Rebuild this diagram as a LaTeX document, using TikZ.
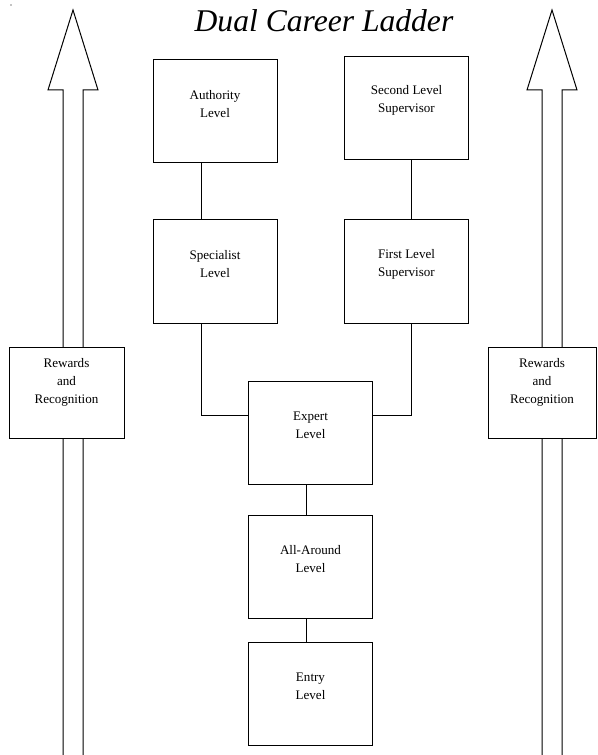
\documentclass[tikz,border=0pt]{standalone}
\usepackage{fontspec}
\setmainfont{Liberation Serif}
\usetikzlibrary{calc}

\tikzset{every picture/.style={line width=0.75pt}}
\tikzset{
  ladderbox/.style={draw, fill=white, minimum width=93pt, minimum height=77.25pt, inner sep=0pt},
  rewardbox/.style={draw, fill=white, minimum height=68.25pt, inner sep=0pt},
  boxtext/.style={align=center, font=\fontsize{9.8}{13.5}\selectfont, inner sep=0.75pt},
}

\begin{document}
\begin{tikzpicture}[x=0.75pt,y=0.75pt,yscale=-1,xscale=1]
\useasboundingbox (0,0) rectangle (597,755);

%Stray dot
\fill (11,5) circle (0.6);

%Left hollow arrow
\draw (63,755) -- (63,90) -- (48,90) -- (73,10) -- (98,90) -- (83,90) -- (83,755);
%Right hollow arrow
\draw (542,755) -- (542,90) -- (527,90) -- (552,10) -- (577,90) -- (562,90) -- (562,755);

% Title
\node [anchor=base, font=\fontsize{23.7}{28}\selectfont\itshape] (title) at (324,32) {Dual Career Ladder};

% Boxes
\node [ladderbox, label={[boxtext,yshift=5.5pt]center:Authority\\Level}] (auth) at (215,111) {};
\node [ladderbox, label={[boxtext,yshift=5.5pt]center:Second Level\\Supervisor}] (second) at (406.5,108) {};
\node [ladderbox, label={[boxtext,yshift=5.5pt]center:Specialist\\Level}] (spec) at (215,271.5) {};
\node [ladderbox, label={[boxtext,yshift=5.5pt]center:First Level\\Supervisor}] (first) at (406.5,271.5) {};
\node [ladderbox, label={[boxtext,yshift=5.5pt]center:Expert\\Level}] (expert) at (310.5,433) {};
\node [ladderbox, label={[boxtext,yshift=5.5pt]center:All-Around\\Level}] (allround) at (310.5,566.5) {};
\node [ladderbox, label={[boxtext,yshift=5.5pt]center:Entry\\Level}] (entry) at (310.5,693.5) {};
\node [rewardbox, minimum width=86.25pt, label={[boxtext,yshift=7.5pt]center:Rewards\\and\\Recognition}] (rewleft) at (66.5,392.5) {};
\node [rewardbox, minimum width=81pt, label={[boxtext,yshift=7.5pt]center:Rewards\\and\\Recognition}] (rewright) at (542,392.5) {};

% Connectors
\draw ($(auth.south)+(-14,0)$) -- ($(spec.north)+(-14,0)$);
\draw ($(second.south)+(5,0)$) -- ($(first.north)+(5,0)$);
\draw ($(spec.south)+(-14,0)$) |- ($(expert.west)+(0,-18)$);
\draw ($(first.south)+(5,0)$) |- ($(expert.east)+(0,-18)$);
\draw ($(expert.south)+(-4.5,0)$) -- ($(allround.north)+(-4.5,0)$);
\draw ($(allround.south)+(-4.5,0)$) -- ($(entry.north)+(-4.5,0)$);

\end{tikzpicture}
\end{document}
